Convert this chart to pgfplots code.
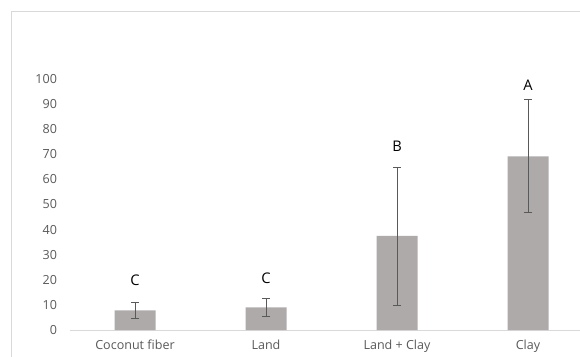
\documentclass[border=0pt]{standalone}
\usepackage{pgfplots}
\pgfplotsset{compat=1.18}
\usepackage{fontspec}
\setmainfont{Open Sans}
\definecolor{barc}{HTML}{AEAAAA}
\definecolor{tickc}{HTML}{595959}
\definecolor{framec}{HTML}{D9D9D9}
\begin{document}
\begin{tikzpicture}
\path[use as bounding box] (-52.125pt,-19.5pt) rectangle (382.875pt,247.5pt);
\draw[framec, line width=0.75pt] (-43.125pt,-25pt) -- (-43.125pt,238.5pt) -- (390pt,238.5pt);
\begin{axis}[
  at={(0pt,0pt)}, anchor=south west,
  scale only axis, width=393pt, height=188.25pt,
  xmin=-0.5, xmax=3.5, ymin=0, ymax=100,
  clip=false,
  axis x line*=bottom, axis y line*=left,
  y axis line style={draw=none},
  x axis line style={draw=framec, line width=0.75pt},
  major tick length=0pt,
  xtick={0,1,2,3},
  xticklabels={Coconut fiber, Land, Land + Clay, Clay},
  ytick={0,10,...,100},
  tick label style={font=\fontsize{9.4}{11}\selectfont, text=tickc},
  yticklabel style={anchor=east, inner sep=0pt, xshift=-9.2pt},
  xticklabel style={anchor=north, inner sep=0pt, yshift=-7pt},
  /pgf/number format/assume math mode=true,
]
\addplot[ybar, bar width=30.75pt, fill=barc, draw=none,
  error bars/.cd, y dir=both, y explicit,
  error bar style={draw=tickc, line width=0.5pt},
  error mark options={rotate=90, mark size=3pt, draw=tickc, line width=0.5pt}]
  coordinates {(0,7.8) +- (0,3.1) (1,9.0) +- (0,3.5) (2,37.5) +- (0,27.5) (3,69.2) +- (0,22.5)};
\node[font=\fontsize{11}{13}\selectfont] at (axis cs:0,19.7) {C};
\node[font=\fontsize{11}{13}\selectfont] at (axis cs:1,20.6) {C};
\node[font=\fontsize{11}{13}\selectfont] at (axis cs:2,73.3) {B};
\node[font=\fontsize{11}{13}\selectfont] at (axis cs:3,97.6) {A};
\end{axis}
\end{tikzpicture}
\end{document}
